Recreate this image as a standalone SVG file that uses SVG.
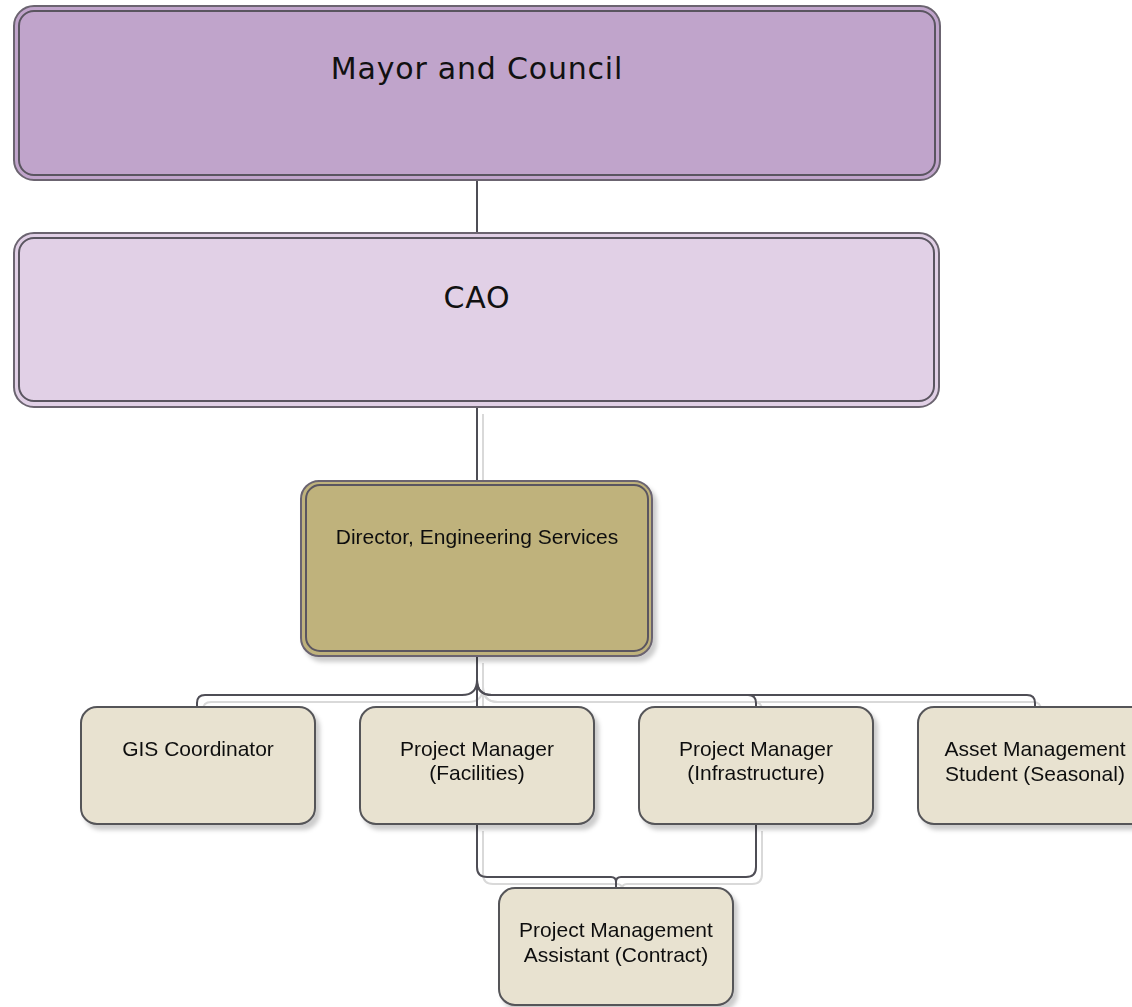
<svg xmlns="http://www.w3.org/2000/svg" width="1132" height="1007" viewBox="0 0 1132 1007">
  <defs>
    <filter id="shadow" x="-10%" y="-10%" width="130%" height="130%">
      <feDropShadow dx="4" dy="5" stdDeviation="2" flood-color="#000" flood-opacity="0.2"/>
    </filter>
    <style>
      .big { font-family: "DejaVu Sans", Verdana, sans-serif; font-size: 30px; fill: #111; text-anchor: middle; letter-spacing: 0.8px; }
      .lbl { font-family: "Liberation Sans", Arial, sans-serif; font-size: 21px; fill: #111; text-anchor: middle; }
      .edge { fill: none; stroke: #4e4d55; stroke-width: 2; }
      .edge-sh { fill: none; stroke: #d9d9d9; stroke-width: 2; }
      .outer { stroke: #6b6470; stroke-width: 2; }
      .inner { fill: none; stroke: #5a5560; stroke-width: 2; }
      .child { fill: #e8e2d0; stroke: #555559; stroke-width: 2; }
    </style>
  </defs>
  <rect width="1132" height="1007" fill="#fff"/>

  <!-- connectors -->
  <g id="connectors">
    <g transform="translate(6,7)">
      <path class="edge-sh" d="M477 407 V478"/>
      <path class="edge-sh" d="M477 656 V680 Q477 695 462 695 H205 Q197 695 197 703 V707"/>
      <path class="edge-sh" d="M477 656 V707"/>
      <path class="edge-sh" d="M477 656 V680 Q477 695 492 695 H748 Q756 695 756 703 V707"/>
      <path class="edge-sh" d="M477 656 V680 Q477 695 492 695 H1027 Q1035 695 1035 703 V707"/>
      <path class="edge-sh" d="M477 824 V867 Q477 877 487 877 H611 Q616 877 616 882 V888"/>
      <path class="edge-sh" d="M756 824 V867 Q756 877 746 877 H621 Q616 877 616 882 V888"/>
    </g>
    <path class="edge" d="M477 180 V233"/>
    <path class="edge" d="M477 407 V481"/>
    <path class="edge" d="M477 656 V680 Q477 695 462 695 H205 Q197 695 197 703 V707"/>
    <path class="edge" d="M477 656 V707"/>
    <path class="edge" d="M477 656 V680 Q477 695 492 695 H748 Q756 695 756 703 V707"/>
    <path class="edge" d="M477 656 V680 Q477 695 492 695 H1027 Q1035 695 1035 703 V707"/>
    <path class="edge" d="M477 824 V867 Q477 877 487 877 H611 Q616 877 616 882 V888"/>
    <path class="edge" d="M756 824 V867 Q756 877 746 877 H621 Q616 877 616 882 V888"/>
  </g>

  <!-- Mayor and Council -->
  <g id="mayor">
    <rect class="outer" x="14" y="6" width="926" height="174" rx="20" fill="#c0a4cb"/>
    <rect class="inner" x="19" y="11" width="916" height="164" rx="15"/>
    <text class="big" x="477" y="79">Mayor and Council</text>
  </g>

  <!-- CAO -->
  <g id="cao">
    <rect class="outer" x="14" y="233" width="925" height="174" rx="20" fill="#e1d0e6"/>
    <rect class="inner" x="19" y="238" width="915" height="163" rx="15"/>
    <text class="big" x="477" y="308">CAO</text>
  </g>

  <!-- Director -->
  <g id="director" filter="url(#shadow)">
    <rect class="outer" x="301" y="481" width="351" height="175" rx="18" fill="#bfb27c"/>
    <rect class="inner" x="306" y="485" width="342" height="166" rx="14"/>
    <text class="lbl" x="477" y="544">Director, Engineering Services</text>
  </g>

  <!-- direct reports -->
  <g id="gis" filter="url(#shadow)">
    <rect class="child" x="81" y="707" width="234" height="117" rx="16"/>
    <text class="lbl" x="198" y="756">GIS Coordinator</text>
  </g>
  <g id="pm-facilities" filter="url(#shadow)">
    <rect class="child" x="360" y="707" width="234" height="117" rx="16"/>
    <text class="lbl" x="477" y="756">Project Manager</text>
    <text class="lbl" x="477" y="780">(Facilities)</text>
  </g>
  <g id="pm-infrastructure" filter="url(#shadow)">
    <rect class="child" x="639" y="707" width="234" height="117" rx="16"/>
    <text class="lbl" x="756" y="756">Project Manager</text>
    <text class="lbl" x="756" y="780">(Infrastructure)</text>
  </g>
  <g id="asset-student" filter="url(#shadow)">
    <rect class="child" x="918" y="707" width="234" height="117" rx="16"/>
    <text class="lbl" x="1035" y="756">Asset Management</text>
    <text class="lbl" x="1035" y="781">Student (Seasonal)</text>
  </g>

  <!-- contract assistant -->
  <g id="pm-assistant" filter="url(#shadow)">
    <rect class="child" x="499" y="888" width="234" height="117" rx="16"/>
    <text class="lbl" x="616" y="937">Project Management</text>
    <text class="lbl" x="616" y="962">Assistant (Contract)</text>
  </g>
</svg>
